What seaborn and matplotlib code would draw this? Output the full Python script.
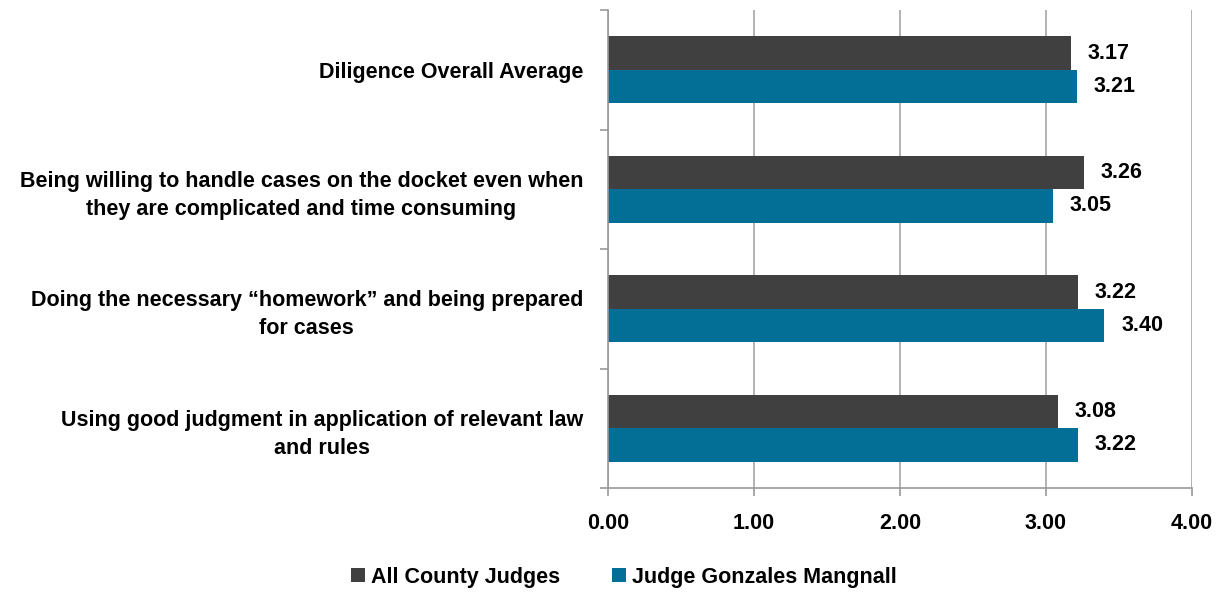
import matplotlib
matplotlib.use("Agg")
import matplotlib.pyplot as plt
import seaborn as sns
import pandas as pd

categories = [
    "Diligence Overall Average",
    "Being willing to handle cases on the docket even when\nthey are complicated and time consuming",
    "Doing the necessary \u201chomework\u201d and being prepared\nfor cases",
    "Using good judgment in application of relevant law\nand rules",
]
series_names = ["All County Judges", "Judge Gonzales Mangnall"]
all_county = [3.17, 3.26, 3.22, 3.08]
judge = [3.21, 3.05, 3.40, 3.22]
x_ticks = [0, 1, 2, 3, 4]
x_tick_labels = ["0.00", "1.00", "2.00", "3.00", "4.00"]
colors = ["#404040", "#036f96"]

sns.set_theme(style="white")
plt.rcParams['font.family'] = ['Liberation Sans Narrow', 'Liberation Sans', 'DejaVu Sans']
plt.rcParams['font.weight'] = 'bold'
plt.rcParams['text.color'] = 'black'
plt.rcParams['xtick.color'] = 'black'
plt.rcParams['ytick.color'] = 'black'

df = pd.DataFrame({
    "category": categories * 2,
    "series": [series_names[0]] * 4 + [series_names[1]] * 4,
    "value": all_county + judge,
})

fig = plt.figure(figsize=(12.22, 5.92), dpi=100)
ax = fig.add_axes([608 / 1222, 1 - 488 / 592, (1192 - 608) / 1222, (488 - 10) / 592])

sns.barplot(data=df, y="category", x="value", hue="series", order=categories,
            hue_order=series_names, palette=colors, orient="h", width=0.56,
            saturation=1, linewidth=0, ax=ax, legend=True)

ax.set_xlim(0, 4)
ax.set_ylim(3.5, -0.5)
ax.set_xticks(x_ticks)
ax.set_xticklabels(x_tick_labels, fontsize=15.5, fontweight="bold")
ax.set_yticks([-0.5, 0.5, 1.5, 2.5, 3.5], minor=True)
ax.set_yticks(range(len(categories)))
ax.set_yticklabels(categories, fontsize=15.5, fontweight="bold", multialignment="center",
                   linespacing=1.45)
ax.tick_params(axis="y", which="major", length=0, pad=18)
ax.tick_params(axis="y", which="minor", length=6, color="#999999", width=1.2, direction="out", left=True)
ax.tick_params(axis="x", length=6, color="#999999", width=1.2, direction="out", bottom=True, pad=12)
ax.set_xlabel("")
ax.set_ylabel("")
ax.grid(axis="x", color="#a6a6a6", linewidth=1.2)
ax.set_axisbelow(True)
for s in ["top", "right"]:
    ax.spines[s].set_visible(False)
for s in ["left", "bottom"]:
    ax.spines[s].set_color("#999999")
    ax.spines[s].set_linewidth(1.2)

for cont in ax.containers:
    ax.bar_label(cont, fmt="%.2f", padding=12, fontsize=15.5, fontweight="bold", color="black")

handles, labels = ax.get_legend_handles_labels()
leg = ax.legend(handles, labels, loc="center", bbox_to_anchor=(624 / 1222, 1 - 577 / 592),
                bbox_transform=fig.transFigure,
                ncol=2, frameon=False, fontsize=15.5, handlelength=0.65, handleheight=0.65,
                handletextpad=0.3, columnspacing=2.4)
for t in leg.get_texts():
    t.set_fontweight("bold")

fig.savefig("out.png", dpi=100)
